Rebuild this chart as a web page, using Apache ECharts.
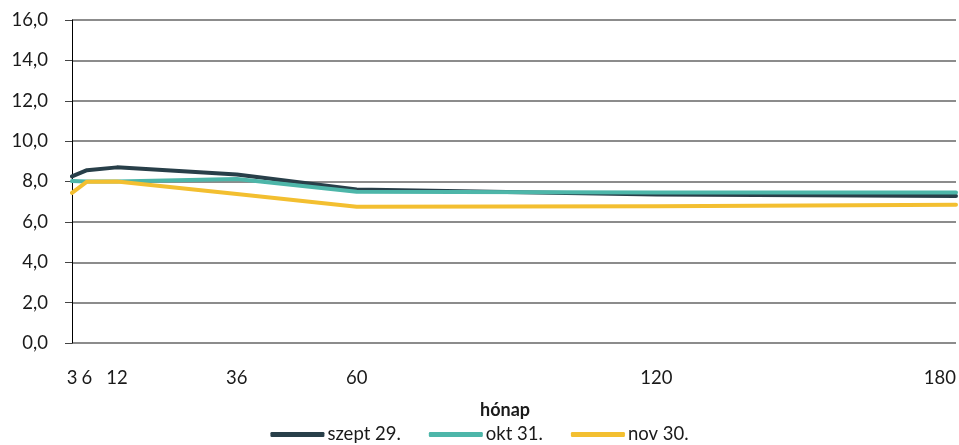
<!DOCTYPE html>
<html>
<head>
<meta charset="utf-8">
<script src="https://cdn.jsdelivr.net/npm/echarts@6/dist/echarts.min.js"></script>
<style>
html,body{margin:0;padding:0;background:#fff;}
#chart{width:959px;height:445px;}
</style>
</head>
<body>
<div id="chart"></div>
<script>
var months = [3, 6, 12, 36, 60, 120, 180];
var tickMonths = [3, 6, 12, 36, 60, 120, 180];
var seriesNames = ['szept 29.', 'okt 31.', 'nov 30.'];
var szept = [8.25, 8.56, 8.70, 8.35, 7.60, 7.35, 7.28];
var okt = [8.02, 8.00, 8.00, 8.12, 7.49, 7.46, 7.46];
var nov = [7.44, 7.99, 8.00, 7.38, 6.75, 6.78, 6.85];
var colors = ['#283f49', '#4db6a9', '#f3bf30'];
var axisName = 'hónap';

function pairs(xs, ys) { return xs.map(function (x, i) { return [x, ys[i]]; }); }

var font = 'Lato, "Open Sans", sans-serif';
var chart = echarts.init(document.getElementById('chart'), null, { renderer: 'canvas' });
var allValues = [szept, okt, nov];
chart.setOption({
  animation: false,
  backgroundColor: '#ffffff',
  color: colors,
  textStyle: { fontFamily: font },
  grid: { left: 72, right: 1, top: 20, bottom: 102, containLabel: false },
  legend: {
    top: 425,
    left: 'center',
    padding: 0,
    itemWidth: 54,
    itemHeight: 5,
    itemGap: 28,
    textStyle: { fontSize: 18.5, color: '#1a1a1a', fontFamily: font, padding: [0, 0, 0, -2] },
    data: seriesNames.map(function (n) { return { name: n, icon: 'roundRect' }; })
  },
  xAxis: {
    type: 'value',
    min: 3,
    max: 180,
    name: axisName,
    nameLocation: 'middle',
    nameGap: 58,
    nameTextStyle: { fontSize: 18, fontWeight: 'bold', color: '#1a1a1a', fontFamily: font, padding: [0, 18, 0, 0] },
    axisLine: { show: false },
    axisTick: { show: false },
    splitLine: { show: false },
    axisLabel: {
      customValues: tickMonths,
      margin: 26,
      fontSize: 18.5,
      color: '#1a1a1a',
      fontFamily: font,
      showMinLabel: true,
      showMaxLabel: true,
      alignMaxLabel: 'right',
      hideOverlap: false
    }
  },
  yAxis: {
    type: 'value',
    min: 0,
    max: 16,
    interval: 2,
    axisLine: { show: true, lineStyle: { color: '#000000', width: 1 } },
    axisTick: { show: true, length: 7, lineStyle: { color: '#444444', width: 1 } },
    splitLine: { show: true, lineStyle: { color: '#8c8c8c', width: 2 } },
    axisLabel: {
      margin: 24,
      fontSize: 18.5,
      color: '#1a1a1a',
      fontFamily: font,
      formatter: function (v) { return v.toFixed(1).replace('.', ','); }
    }
  },
  series: seriesNames.map(function (n, i) {
    return {
      name: n,
      type: 'line',
      data: pairs(months, allValues[i]),
      symbol: 'none',
      smooth: false,
      lineStyle: { width: 4, color: colors[i], cap: 'round', join: 'round' },
      itemStyle: { color: colors[i] },
      z: 2 + i
    };
  })
});
</script>
</body>
</html>
